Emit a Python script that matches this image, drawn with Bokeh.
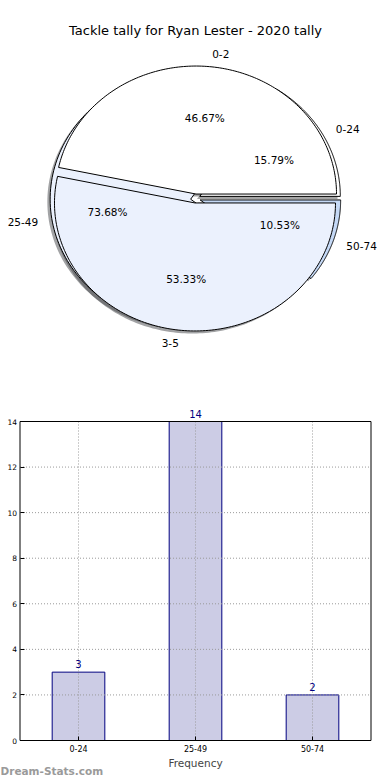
import numpy as np
from bokeh.plotting import figure
from bokeh.models import (ColumnDataSource, Label, LabelSet, FactorRange, FixedTicker)
from bokeh.layouts import column
from bokeh.embed import file_html
from bokeh.resources import INLINE
from bokeh.core.properties import value

# ---------------- data ----------------
title_text = "Tackle tally for Ryan Lester - 2020 tally"
inner_labels = ["0-2", "3-5"]
inner_values = [7, 8]
outer_labels = ["0-24", "25-49", "50-74"]
outer_values = [3, 14, 2]
bar_categories = ["0-24", "25-49", "50-74"]
bar_values = [3, 14, 2]
y_ticks = [0, 2, 4, 6, 8, 10, 12, 14]
x_axis_title = "Frequency"
watermark = "Dream-Stats.com"

# ---------------- styles ----------------
inner_colors = ["#ffffff", "#ebf1fd"]
outer_colors = ["#ffffff", "#ebf1fd", "#c5d9f6"]
FONT = "DejaVu Sans"
EXPLODE = 0.035
LABEL_DIST = 1.1
PCT_DIST = 0.6
SHADOW_DX, SHADOW_DY = -0.02, -0.02


def geometry(vals):
    vals = np.asarray(vals, dtype=float)
    fr = vals / vals.sum()
    cum = np.cumsum(fr)
    starts = np.concatenate([[0.0], cum[:-1]]) * 2 * np.pi
    ends = cum * 2 * np.pi
    return fr, starts, ends


def wedge_poly(cx, cy, a0, a1, n=160):
    t = np.linspace(a0, a1, n)
    xs = [cx] + list(cx + np.cos(t)) + [cx]
    ys = [cy] + list(cy + np.sin(t)) + [cy]
    return xs, ys


def pie_parts(vals, labels, colors):
    fr, starts, ends = geometry(vals)
    wx, wy, sx, sy, scol = [], [], [], [], []
    lab_x, lab_y, lab_al, pct_x, pct_y, pct_t = [], [], [], [], [], []
    for f, a0, a1, lab, col in zip(fr, starts, ends, labels, colors):
        mid = 0.5 * (a0 + a1)
        cx, cy = EXPLODE * np.cos(mid), EXPLODE * np.sin(mid)
        xs, ys = wedge_poly(cx, cy, a0, a1)
        wx.append(xs); wy.append(ys)
        sx.append([v + SHADOW_DX for v in xs]); sy.append([v + SHADOW_DY for v in ys])
        r = int(col[1:3], 16); g = int(col[3:5], 16); b = int(col[5:7], 16)
        scol.append("#%02x%02x%02x" % (int(0.3 * r), int(0.3 * g), int(0.3 * b)))
        lx = cx + LABEL_DIST * np.cos(mid)
        ly = cy + LABEL_DIST * np.sin(mid)
        lab_x.append(lx); lab_y.append(ly)
        lab_al.append("left" if lx > 0 else "right")
        pct_x.append(cx + PCT_DIST * np.cos(mid))
        pct_y.append(cy + PCT_DIST * np.sin(mid))
        pct_t.append("%.2f%%" % (100 * f))
    return dict(wx=wx, wy=wy, sx=sx, sy=sy, scol=scol, col=list(colors),
                lab_x=lab_x, lab_y=lab_y, lab_al=lab_al, lab=list(labels),
                pct_x=pct_x, pct_y=pct_y, pct_t=pct_t)


outer = pie_parts(outer_values, outer_labels, outer_colors)
inner = pie_parts(inner_values, inner_labels, inner_colors)

# ---------------- layout constants (page pixels) ----------------
W = 390
PH = 400          # pie figure height
BH = 380          # bar figure height
RX, RY = 140.5, 128.0
CX, CY = 195.0, 198.0
BOX_L, BOX_R = 19.5, 370.5     # bar box, page x
BOX_T, BOX_B = 421.0, 740.0    # bar box, page y

# ---------------- pie figure ----------------
p1 = figure(width=W, height=PH,
            x_range=(-CX / RX, (W - CX) / RX),
            y_range=(-(PH - CY) / RY, CY / RY),
            x_axis_type=None, y_axis_type=None,
            output_backend="svg", toolbar_location=None,
            min_border=0, min_border_left=0, min_border_right=0,
            min_border_top=0, min_border_bottom=0)
p1.grid.visible = False
p1.outline_line_color = None

for part in (outer, inner):
    p1.patches(xs=part["sx"], ys=part["sy"], fill_color=part["scol"],
               fill_alpha=0.5, line_color=None)
for part in (outer, inner):
    p1.patches(xs=part["wx"], ys=part["wy"], fill_color=part["col"],
               line_color="black", line_width=1)

for part in (outer, inner):
    src = ColumnDataSource(dict(x=part["lab_x"], y=part["lab_y"], t=part["lab"], al=part["lab_al"]))
    p1.add_layout(LabelSet(x="x", y="y", text="t", source=src, text_align="al",
                           text_baseline="middle", text_font=value(FONT),
                           text_font_size="10.5px", text_color="black"))
    src2 = ColumnDataSource(dict(x=part["pct_x"], y=part["pct_y"], t=part["pct_t"]))
    p1.add_layout(LabelSet(x="x", y="y", text="t", source=src2, text_align="center",
                           text_baseline="middle", text_font=value(FONT),
                           text_font_size="10.5px", text_color="black"))

p1.add_layout(Label(x=CX, y=PH - 30, x_units="screen", y_units="screen",
                    text=title_text, text_align="center", text_baseline="middle",
                    text_font=FONT, text_font_size="13px", text_color="black"))

# ---------------- bar figure (frame = whole canvas, axes fixed inside) ----------------
n_cat = len(bar_categories)
y_top = y_ticks[-1]
px_per_x = (BOX_R - BOX_L) / n_cat
side_pad = 0.5 * (W - (BOX_R - BOX_L)) / px_per_x     # padding per side, factor units
px_per_y = (BOX_B - BOX_T) / y_top
y_start = -(PH + BH - BOX_B) / px_per_y
y_end = y_top + (BOX_T - PH) / px_per_y

p2 = figure(width=W, height=BH,
            x_range=FactorRange(factors=bar_categories, range_padding=side_pad,
                                range_padding_units="absolute"),
            y_range=(y_start, y_end),
            output_backend="svg", toolbar_location=None,
            min_border=0, min_border_left=0, min_border_right=0,
            min_border_top=0, min_border_bottom=0)
p2.grid.visible = False
p2.outline_line_color = None

src = ColumnDataSource(dict(x=bar_categories, top=bar_values))
p2.vbar(x="x", top="top", width=0.45, source=src,
        fill_color="#ccccE5", line_color="#000080", line_width=1)

# dotted grid lines (drawn over the bars, as in the reference)
p2.segment(x0=bar_categories, y0=[0] * n_cat, x1=bar_categories, y1=[y_top] * n_cat,
           line_color="#9a9a9a", line_dash="1 2", line_width=1)
p2.segment(x0=[0] * len(y_ticks), y0=y_ticks, x1=[n_cat] * len(y_ticks), y1=y_ticks,
           line_color="#9a9a9a", line_dash="1 2", line_width=1)
# plot box
p2.quad(left=[0], right=[n_cat], bottom=[0], top=[y_top],
        fill_color=None, line_color="black", line_width=1)

# value labels (factor i centred at synthetic coordinate i + 0.5)
for i, v in enumerate(bar_values):
    p2.add_layout(Label(x=i + 0.5, y=v, text=str(v), y_offset=4,
                        text_align="center", text_baseline="bottom",
                        text_font=FONT, text_font_size="10px", text_color="#000080"))

xa = p2.xaxis[0]
ya = p2.yaxis[0]
xa.fixed_location = 0
ya.fixed_location = 0
ya.ticker = FixedTicker(ticks=y_ticks)
for ax in (xa, ya):
    ax.major_tick_in = 4
    ax.major_tick_out = 0
    ax.minor_tick_line_color = None
    ax.axis_line_color = None
    ax.major_tick_line_color = "black"
    ax.major_label_text_font = FONT
    ax.major_label_text_color = "black"
xa.major_label_text_font_size = "8px"
ya.major_label_text_font_size = "7.5px"
xa.major_label_standoff = 4
ya.major_label_standoff = 3
xa.axis_label = x_axis_title
xa.axis_label_text_font = FONT
xa.axis_label_text_font_size = "10.5px"
xa.axis_label_text_font_style = "normal"
xa.axis_label_standoff = 2

p2.add_layout(Label(x=0, y=4, x_units="screen", y_units="screen",
                    text=watermark, text_align="left", text_baseline="bottom",
                    text_font=FONT, text_font_size="10.5px", text_font_style="bold",
                    text_color="#9a9a9a"))

layout = column(p1, p2)
open("out.html", "w").write(file_html(layout, INLINE))
